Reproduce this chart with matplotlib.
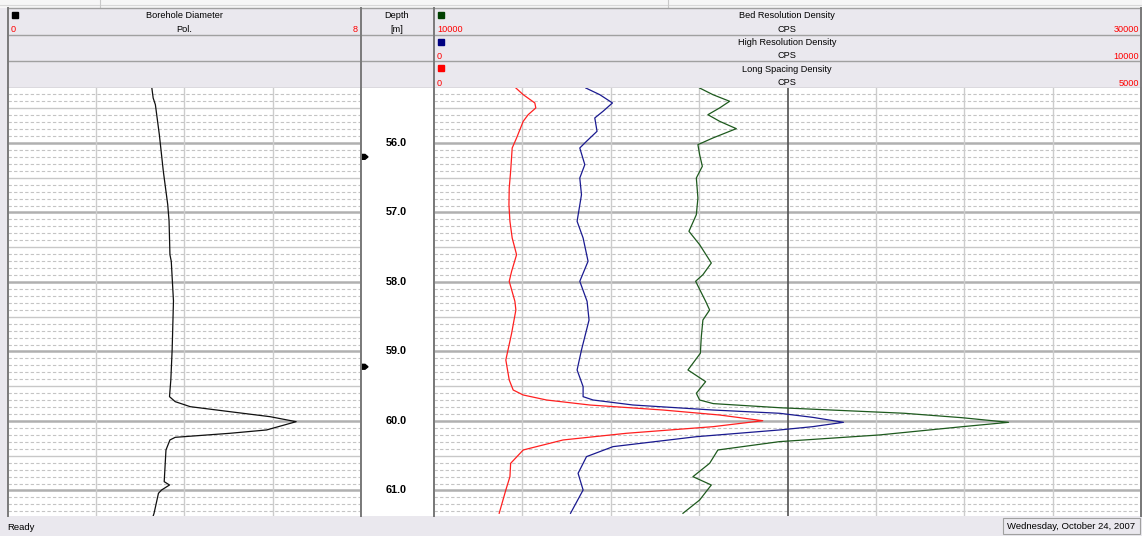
import numpy as np
import matplotlib.pyplot as plt
from matplotlib.patches import Rectangle, Polygon

W, H = 1142, 536

# depth window shown in the log view [m]
depth_top, depth_bottom = 55.209, 61.367
depth_labels = [56.0, 57.0, 58.0, 59.0, 60.0, 61.0]
marker_depths = [56.20, 59.22]

# Borehole Diameter (Pol., scale 0 - 8)
bd_depth = [55.209, 55.353, 55.449, 55.881, 56.407, 56.888, 57.122, 57.607, 57.702,
            58.273, 58.978, 59.410, 59.650, 59.722, 59.794, 59.866, 59.938, 60.010,
            60.129, 60.177, 60.235, 60.273, 60.417, 60.873, 60.921, 60.993, 61.040,
            61.328, 61.367]
bd_value = [3.26, 3.29, 3.34, 3.43, 3.52, 3.62, 3.65, 3.67, 3.70,
            3.75, 3.72, 3.69, 3.66, 3.79, 4.13, 5.03, 5.94, 6.53,
            5.86, 5.03, 3.79, 3.67, 3.58, 3.54, 3.66, 3.48, 3.41,
            3.31, 3.29]

# Long Spacing Density (CPS, scale 0 - 5000)
ls_depth = [55.209, 55.305, 55.424, 55.496, 55.593, 55.688, 55.928, 56.072, 56.407,
            56.647, 56.888, 57.127, 57.367, 57.607, 57.846, 57.990, 58.278, 58.403,
            58.738, 59.122, 59.410, 59.554, 59.626, 59.698, 59.770, 59.842, 59.914,
            59.996, 60.082, 60.177, 60.273, 60.417, 60.609, 60.801, 60.993, 61.328]
ls_value = [579, 631, 713, 720, 666, 631, 584, 553, 542,
            532, 530, 537, 553, 584, 549, 532, 572, 579,
            549, 508, 532, 560, 631, 796, 1102, 1619, 2020,
            2325, 1972, 1361, 913, 631, 542, 537, 508, 461]

# High Resolution Density (CPS, scale 0 - 10000)
hr_depth = [55.209, 55.305, 55.424, 55.544, 55.640, 55.832, 55.976, 56.072, 56.312,
            56.504, 56.744, 57.127, 57.367, 57.702, 57.990, 58.278, 58.547, 58.978,
            59.266, 59.506, 59.650, 59.698, 59.770, 59.842, 59.889, 59.947, 60.019,
            60.082, 60.129, 60.226, 60.369, 60.513, 60.753, 60.993, 61.328]
hr_value = [2147, 2345, 2524, 2391, 2274, 2306, 2157, 2062, 2133,
            2062, 2086, 2024, 2109, 2179, 2062, 2165, 2193, 2086,
            2024, 2109, 2109, 2250, 2815, 3945, 4887, 5353, 5791,
            5353, 4887, 3711, 2532, 2157, 2038, 2109, 1931]

# Bed Resolution Density (CPS, scale 10000 - 30000)
br_depth = [55.209, 55.305, 55.400, 55.496, 55.593, 55.688, 55.794, 55.928, 56.024,
            56.168, 56.335, 56.504, 56.791, 57.032, 57.271, 57.463, 57.727, 57.895,
            57.990, 58.278, 58.403, 58.547, 58.787, 59.026, 59.266, 59.434, 59.601,
            59.698, 59.750, 59.809, 59.889, 59.953, 60.019, 60.082, 60.201, 60.297,
            60.417, 60.609, 60.801, 60.921, 61.137, 61.328]
br_value = [17514, 17890, 18362, 18079, 17749, 18079, 18551, 17890, 17466,
            17514, 17591, 17421, 17466, 17421, 17212, 17514, 17845, 17607,
            17401, 17684, 17797, 17607, 17562, 17534, 17184, 17684, 17421,
            17514, 17900, 19774, 23305, 24944, 26252, 24944, 22599, 19774,
            18031, 17797, 17325, 17845, 17514, 17043]

plt.rcParams['font.family'] = ['Liberation Sans', 'DejaVu Sans']

panel = '#EAE8EE'

fig = plt.figure(figsize=(W / 100, H / 100), dpi=100)
fig.patch.set_facecolor(panel)

# pixel-space layer for header, borders and status bar
bg = fig.add_axes([0, 0, 1, 1])
bg.set_xlim(0, W)
bg.set_ylim(H, 0)
bg.axis('off')

# thin toolbar strip on top
bg.add_patch(Rectangle((0, 0), W, 8, color='#F6F6F6', lw=0))
bg.plot([0, W], [4.5, 4.5], color='#D8D8D8', lw=0.8)
for x in (100, 668):
    bg.plot([x, x], [0, 8], color='#C8C8C8', lw=0.8)

# header block
bg.add_patch(Rectangle((8, 8), 1133, 80, facecolor=panel, edgecolor='none'))
for y in (8, 35, 61, 88):
    bg.plot([8, 1141], [y, y], color='#A0A0A0', lw=1)
for x in (8, 361, 434, 1141):
    bg.plot([x, x], [8, 88], color='#7A7A7A', lw=1.4)

fs = 6.6
bg.add_patch(Rectangle((12, 12), 6, 6, color='black'))
bg.text(184, 16, 'Borehole Diameter', ha='center', va='center', fontsize=fs)
bg.text(184, 29, 'Pol.', ha='center', va='center', fontsize=fs)
bg.text(11, 30, '0', ha='left', va='center', fontsize=fs, color='red')
bg.text(358, 30, '8', ha='right', va='center', fontsize=fs, color='red')

bg.text(397, 16, 'Depth', ha='center', va='center', fontsize=fs)
bg.text(397, 29, '[m]', ha='center', va='center', fontsize=fs)

headers = [
    ('Bed Resolution Density', '10000', '30000', '#004000'),
    ('High Resolution Density', '0', '10000', '#000080'),
    ('Long Spacing Density', '0', '5000', '#FF0000'),
]
for i, (name, lo, hi, col) in enumerate(headers):
    y0 = 8 + i * 26.7
    bg.add_patch(Rectangle((438, y0 + 4), 6, 6, color=col))
    bg.text(787, y0 + 8, name, ha='center', va='center', fontsize=fs)
    bg.text(787, y0 + 21, 'CPS', ha='center', va='center', fontsize=fs)
    bg.text(437, y0 + 22, lo, ha='left', va='center', fontsize=fs, color='red')
    bg.text(1139, y0 + 22, hi, ha='right', va='center', fontsize=fs, color='red')

# status bar
bg.text(7, 527, 'Ready', ha='left', va='center', fontsize=6.8)
bg.add_patch(Rectangle((1003, 518), 137, 16, facecolor=panel, edgecolor='#A0A0A0', lw=0.8))
bg.text(1071, 526.5, 'Wednesday, October 24, 2007', ha='center', va='center', fontsize=6.8)


def track(x0, x1, y0=88, y1=516):
    ax = fig.add_axes([x0 / W, 1 - y1 / H, (x1 - x0) / W, (y1 - y0) / H])
    ax.set_ylim(depth_bottom, depth_top)
    ax.set_xticks([])
    ax.set_yticks([])
    for s in ax.spines.values():
        s.set_color('#7A7A7A')
        s.set_linewidth(1.4)
    ax.spines['bottom'].set_visible(False)
    ax.spines['top'].set_visible(False)
    return ax


minor = [d for d in np.arange(55.3, 61.35, 0.1) if abs(d * 2 - round(d * 2)) > 0.01]
half = [d for d in np.arange(55.5, 61.35, 0.5) if abs(d - round(d)) > 0.01]
whole = depth_labels


def depth_grid(ax):
    for d in minor:
        ax.axhline(d, color='#C4C4C4', lw=0.8, ls=(0, (3, 2)), zorder=1)
    for d in half:
        ax.axhline(d, color='#C8C8C8', lw=1.0, zorder=1)
    for d in whole:
        ax.axhline(d, color='#B0B0B0', lw=1.8, zorder=1)


# left track: borehole diameter
ax_bd = track(8, 361)
ax_bd.set_xlim(0, 8)
depth_grid(ax_bd)
for v in (2, 4, 6):
    ax_bd.axvline(v, color='#CCCCCC', lw=1.0, zorder=1)
ax_bd.plot(bd_value, bd_depth, color='#101010', lw=0.9, zorder=3)

# depth track
ax_d = track(361, 434)
ax_d.set_xlim(0, 73)
for d in depth_labels:
    ax_d.text(35, d, f'{d:.1f}', ha='center', va='center', fontsize=7.8, fontweight='bold')
for d in marker_depths:
    ax_d.add_patch(Polygon([(0, d - 0.035), (4, d - 0.035), (7, d),
                            (4, d + 0.035), (0, d + 0.035)], closed=True, color='black'))

# right track: three density curves on their own scales
ax_br = track(434, 1141)
ax_br.set_xlim(10000, 30000)
depth_grid(ax_br)
for v in np.arange(12500, 30000, 2500):
    if v == 20000:
        ax_br.axvline(v, color='#505050', lw=1.2, zorder=2)
    else:
        ax_br.axvline(v, color='#CCCCCC', lw=1.0, zorder=1)

ax_hr = track(434, 1141)
ax_hr.set_xlim(0, 10000)
ax_hr.patch.set_alpha(0)
ax_ls = track(434, 1141)
ax_ls.set_xlim(0, 5000)
ax_ls.patch.set_alpha(0)

ax_br.plot(br_value, br_depth, color='#1E5A1E', lw=0.9, zorder=3)
ax_hr.plot(hr_value, hr_depth, color='#1A1A90', lw=0.9, zorder=3)
ax_ls.plot(ls_value, ls_depth, color='#FF2020', lw=0.9, zorder=3)

fig.savefig('out.png', dpi=100, facecolor=fig.get_facecolor())
